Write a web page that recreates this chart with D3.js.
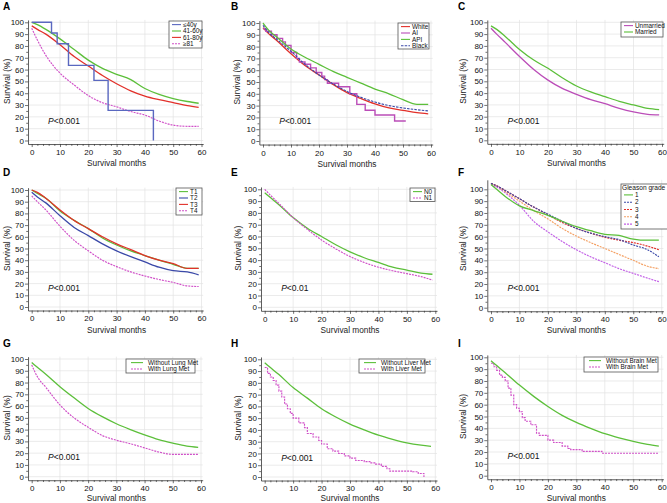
<!DOCTYPE html>
<html><head><meta charset="utf-8">
<script src="https://cdn.jsdelivr.net/npm/d3@7"></script>
<style>body{margin:0;background:#fff}svg{display:block;font-family:"Liberation Sans",Arial,sans-serif}</style>
</head><body>
<svg id="c" width="667" height="503"></svg>
<script>
// ---------- data ----------
const months = [0,2,5,10,15,20,25,30,35,40,45,50,55,59];
const yTicks = [0,10,20,30,40,50,60,70,80,90,100];
const xTicks = [0,10,20,30,40,50,60];

// A: age
const aLabels = ["\u226440y","41-60y","61-80y","\u226581"];
const aLe40T = [0,7,9,13,22,27,43];
const aLe40V = [100,90.9,81.8,63.6,50.9,25.5,0];
const a41 = [100,98,94,86,77,68,61,56,51.5,44,39,35.5,33,31.5];
const a61 = [97,94,90,81,71,63,55,48,42,37.5,34.5,32,29.5,28];
const a81 = [95,85,72,57,47,38,32,28.5,24.5,21.5,16.5,13,12,12];

// B: race
const bLabels = ["White","AI","API","Black"];
const bWhite = [96,91,85,74,64,56,48,41,36,31.5,28,26,24,23];
const bAIT = [0,1,3,5,7,8,10,12,13,15,17,19,21,22,23,27,31,33.5,36.5,40,47,51];
const bAIV = [95,93,90,87,84,81,75,70,67,65,62,58,55,52,49,46,40,31,26,22,17,17];
const bAPI = [100,94,88,78,71,65,59,54,49,44,40,35,31,31];
const bBlack = [98,92,86,76,65,56,48.5,42,37,33,30,28,26.5,25.5];

// C: marital
const cLabels = ["Unmarried","Married"];
const cUnm = [95,90,83,71,60,51,44,39,34.5,31,27,24,22,21.5];
const cMar = [97,94,88,77,68,61,53,46,41,37,33,30,27,26];

// D: T stage
const dLabels = ["T1","T2","T3","T4"];
const dT1 = [100,97,93,82,74,67,59,53,48,44,40,36.5,33,33];
const dT2 = [98,94,89,78,68,61,54,48,43,38.5,34,31,30,27.5];
const dT3 = [100,98,93,83,74,67,60,54,49,44,40,37,33,33];
const dT4 = [95,90,83,69,57,48,40,34.5,30,26.5,23.5,21,18,17.5];

// E: N stage
const eLabels = ["N0","N1"];
const eN0 = [97,93,87,76,67,60,53,47,42,38,34,31.5,29,28];
const eN1 = [100,95,88,76,66,57,49.5,43,38,34,31,28.5,26,23];

// F: Gleason grade
const fTitle = "Gleason grade";
const fLabels = ["1","2","3","4","5"];
const fG1 = [104,100,94,86,82,78,73,68.5,65,62,61,58,57,57];
const fG2 = [105,103,99,92,85,79,73,67,63,60,57.5,53,49,43];
const fG3 = [105,103,99,92,85,78.5,72,67,63,59.5,57,55,52,49];
const fG4 = [105,103,98,90,82,75,67,60.5,55,50,45,40,35,33];
const fG5 = [104,102,97,86.5,73,64,56,49,43,38,33,29,25,22];

// G: lung met
const gLabels = ["Without Lung Met","With Lung Met"];
const gWithout = [97,93,87,76.5,67,58,51,45,40,35.5,31.5,28.5,26,25];
const gWith = [95,85,76,61,50,42,35,31,28,24.5,21,19,19,19];

// H: liver met
const hLabels = ["Without Liver Met","With Liver Met"];
const hMonths = [0,2,5,10,15,20,25,30,35,40,45,50,55,58.5];
const hWithout = [97,93,87,76,67,58,51,45,40,35.5,32,29,27,26];
const hWithT = [0,1,2,3,4,5,6,7,8,9,10,12,14,15,17,19,20,22,24,26,28,30,32,35,37,39,41,43,44,52,54,56];
const hWithV = [93,88,85,82,78,73,68,62,58,54,50,46,42,37,34,31,28,24,22,20,18,16,14,13,12,11,9,7,5,4.5,3,0];

// I: brain met
const iLabels = ["Without Brain Met","With Brain Met"];
const iWithout = [97,93,87,76.5,67,58.5,51,45,40,35.5,32,29,26.5,25];
const iWithT = [0,1,2,3,4,5,6,7,8,9,10,11,12,14,16,17,20,22,25,27,28,32,39,59];
const iWithV = [95,92,89,85,83,80,74,68,60,57,54,49,46,43,36,34,30,28,25,23,22,20.5,19,19];

const pTexts = ["<0.001","<0.001","<0.001","<0.001","<0.01","<0.001","<0.001","<0.001","<0.001"];

// ---------- styles ----------
const GREEN="#5cbf3a", RED="#e2302a", BLUE="#3b49a8", MAG="#d050c8", PURP="#bb4db8",
      LBLUE="#5a68c0", ORANGE="#f4a063", VIOLET="#c25ee6";
const S = (t,v,color,dash,step)=>({t,v,color,dash,step});

const panels = [
 {L:"A", lx:3, ly:9.5, x0:31.7, x60:201.5, y100:22.3, y0:140.5, top:102, yl:20.7,
  leg:{x:169,y:21,w:33,h:27, labels:aLabels},
  series:[S(months,a81,MAG,"2,1"),S(months,a61,RED),S(months,a41,GREEN),S(aLe40T,aLe40V,LBLUE,null,true)],
  legOrder:[3,2,1,0]},
 {L:"B", lx:231, ly:9.5, x0:263, x60:431, y100:23, y0:141, top:102, yl:22.5,
  leg:{x:398,y:23,w:31,h:26, labels:bLabels},
  series:[S(months,bWhite,RED),S(bAIT,bAIV,PURP,null,true),S(months,bAPI,GREEN),S(months,bBlack,BLUE,"2.5,1.2")],
  legOrder:[0,1,2,3]},
 {L:"C", lx:458, ly:9.5, x0:491, x60:662, y100:22.3, y0:140.3, top:102, yl:24.4,
  leg:{x:621,y:22,w:42,h:15, labels:cLabels},
  series:[S(months,cUnm,PURP),S(months,cMar,GREEN)], legOrder:[0,1]},
 {L:"D", lx:3, ly:175.5, x0:31.7, x60:201.5, y100:190, y0:307, top:102, yl:20.7,
  leg:{x:176,y:188,w:26,h:27, labels:dLabels},
  series:[S(months,dT4,MAG,"2,1"),S(months,dT2,BLUE),S(months,dT1,GREEN),S(months,dT3,RED)],
  legOrder:[2,1,3,0]},
 {L:"E", lx:231, ly:175.5, x0:264.7, x60:435.3, y100:189.3, y0:307.3, top:102, yl:22.5,
  leg:{x:410,y:188,w:25,h:13.5, labels:eLabels},
  series:[S(months,eN0,GREEN),S(months,eN1,MAG,"2,1")], legOrder:[0,1]},
 {L:"F", lx:458, ly:175.5, x0:491, x60:661.7, y100:189.3, y0:307.7, top:108, yl:24.4,
  leg:{x:621,y:184,w:47,h:45, labels:fLabels, title:fTitle},
  series:[S(months,fG5,VIOLET,"2,1"),S(months,fG4,ORANGE,"2,1"),S(months,fG3,RED,"2,1"),S(months,fG2,BLUE,"2,1"),S(months,fG1,GREEN)],
  legOrder:[4,3,2,1,0]},
 {L:"G", lx:3, ly:346.5, x0:31.7, x60:201, y100:359, y0:476.7, top:102, yl:20.7,
  leg:{x:126,y:359,w:69,h:14, labels:gLabels},
  series:[S(months,gWith,MAG,"2,1"),S(months,gWithout,GREEN)], legOrder:[1,0]},
 {L:"H", lx:231, ly:346.5, x0:264.7, x60:435.3, y100:359.3, y0:477, top:102, yl:22.5,
  leg:{x:359,y:359,w:66,h:14, labels:hLabels},
  series:[S(hWithT,hWithV,MAG,"2,1",true),S(hMonths,hWithout,GREEN)], legOrder:[1,0]},
 {L:"I", lx:458, ly:346.5, x0:491, x60:661.7, y100:357.3, y0:475.7, top:102, yl:24.4,
  leg:{x:584,y:357,w:74,h:15, labels:iLabels},
  series:[S(iWithT,iWithV,MAG,"2,1",true),S(months,iWithout,GREEN)], legOrder:[1,0]}
];

// ---------- drawing ----------
const svg = d3.select("#c");
svg.append("rect").attr("width",667).attr("height",503).attr("fill","#fff");

panels.forEach((p,pi)=>{
  const x = d3.scaleLinear().domain([0,60]).range([p.x0,p.x60]);
  const y = d3.scaleLinear().domain([0,100]).range([p.y0,p.y100]);
  const XL=-1.3, XR=60.6, YB=-3;
  const xa = d3.scaleLinear().domain([XL,XR]).range([x(XL),x(XR)]);
  const ya = d3.scaleLinear().domain([YB,p.top]).range([y(YB),y(p.top)]);
  const g = svg.append("g");

  // grid
  g.append("g").selectAll("line").data(yTicks).join("line")
    .attr("x1",x(XL)).attr("x2",x(XR)).attr("y1",d=>y(d)).attr("y2",d=>y(d))
    .attr("stroke","#e3e3e3").attr("stroke-width",0.7);
  g.append("g").selectAll("line").data(xTicks.filter(d=>d>0)).join("line")
    .attr("x1",d=>x(d)).attr("x2",d=>x(d)).attr("y1",y(YB)).attr("y2",y(p.top))
    .attr("stroke","#e3e3e3").attr("stroke-width",0.7);

  // axes
  g.append("g").attr("transform",`translate(${x(XL)},0)`)
    .call(d3.axisLeft(ya).tickValues(yTicks).tickSize(3).tickSizeOuter(0).tickPadding(1));
  const yMin = g.append("g").attr("transform",`translate(${x(XL)},0)`)
    .call(d3.axisLeft(ya).tickValues(d3.range(5,100,10)).tickSize(1.8).tickFormat(""));
  yMin.select(".domain").remove();
  g.append("g").attr("transform",`translate(0,${y(YB)})`)
    .call(d3.axisBottom(xa).tickValues(xTicks).tickSize(3).tickSizeOuter(0).tickPadding(2.3));
  const xMin = g.append("g").attr("transform",`translate(0,${y(YB)})`)
    .call(d3.axisBottom(xa).tickValues(d3.range(2,60,2).filter(d=>d%10)).tickSize(1.8).tickFormat(""));
  xMin.select(".domain").remove();
  g.selectAll(".domain").attr("stroke","#333").attr("stroke-width",0.8);
  g.selectAll(".tick line").attr("stroke","#333").attr("stroke-width",0.7);
  g.selectAll(".tick text").attr("font-size",8).attr("fill","#111")
    .attr("font-family","'Liberation Sans',Arial,sans-serif");

  // axis titles
  g.append("text").attr("transform",`translate(${x(XL)-p.yl},${(y(0)+y(100))/2}) rotate(-90)`)
    .attr("text-anchor","middle").attr("dy","0.35em").attr("font-size",8.4).attr("fill","#222").text("Survival (%)");
  g.append("text").attr("x",(x(0)+x(60))/2).attr("y",Math.min(y(YB)+22, 500.5))
    .attr("text-anchor","middle").attr("font-size",8.3).attr("fill","#222").text("Survival months");

  // panel letter
  g.append("text").attr("x",p.lx).attr("y",p.ly).attr("font-size",10).attr("font-weight","bold").text(p.L);

  // P value
  const pt = g.append("text").attr("x",x(5.8)).attr("y",y(14)).attr("font-size",8.5).attr("fill","#111");
  pt.append("tspan").attr("font-style","italic").text("P");
  pt.append("tspan").text(pTexts[pi]);

  // curves
  p.series.forEach(s=>{
    const pts = s.t.map((t,i)=>[t,s.v[i]]);
    const line = d3.line().x(d=>x(d[0])).y(d=>y(d[1]))
      .curve(s.step ? d3.curveStepAfter : d3.curveMonotoneX);
    g.append("path").attr("d",line(pts)).attr("fill","none")
      .attr("stroke",s.color).attr("stroke-width",s.dash?1.15:(s.step?1.4:1.3))
      .attr("stroke-dasharray",s.dash||null);
  });

  // legend
  const L = p.leg;
  g.append("rect").attr("x",L.x).attr("y",L.y).attr("width",L.w).attr("height",L.h)
    .attr("fill","#fff").attr("stroke","#555").attr("stroke-width",0.8);
  let row0 = 0;
  const rh = 6.4;
  if (L.title){
    g.append("text").attr("x",L.x+1).attr("y",L.y+6.2).attr("font-size",6.6).attr("fill","#111").text(L.title);
    row0 = 1;
  }
  L.labels.forEach((lab,i)=>{
    const s = p.series[p.legOrder[i]];
    const cy = L.y + 3.6 + (i+row0)*(L.title?7.3:rh);
    const sx = L.x + (L.w>50 ? 5 : 3);
    const sw = L.w>50 ? 12 : 9;
    g.append("line").attr("x1",sx).attr("x2",sx+sw).attr("y1",cy).attr("y2",cy)
      .attr("stroke",s.color).attr("stroke-width",1.1).attr("stroke-dasharray",s.dash||null);
    g.append("text").attr("x",sx+sw+(L.w>50?5:2)).attr("y",cy).attr("dy","0.35em")
      .attr("font-size",6.4).attr("fill","#111").text(lab);
  });
});
</script>
</body></html>
